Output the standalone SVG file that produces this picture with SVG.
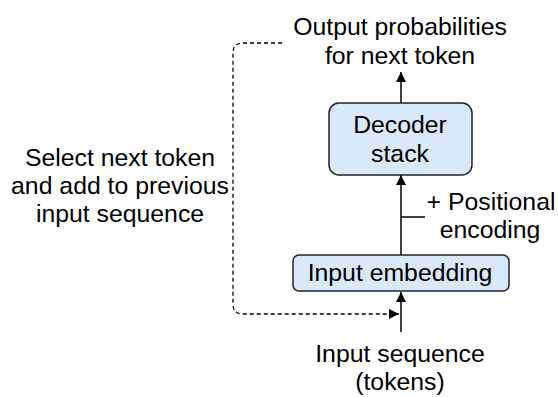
<svg xmlns="http://www.w3.org/2000/svg" width="558" height="397" viewBox="0 0 558 397">
  <style>
    .t { font-family: "Liberation Sans", Arial, sans-serif; font-size: 24.8px; fill: #000; }
    .m { text-anchor: middle; }
    .box { fill: #dae8fc; stroke: #222; stroke-width: 1.5; }
    .ln { fill: none; stroke: #000; stroke-width: 1.5; }
    .dash { fill: none; stroke: #000; stroke-width: 1.3; stroke-dasharray: 4 3; }
  </style>
  <defs>
    <marker id="ah" viewBox="0 0 10 10" refX="10" refY="5" markerWidth="10" markerHeight="10" markerUnits="userSpaceOnUse" orient="auto">
      <path d="M0,0 L10,5 L0,10 Z" fill="#000"/>
    </marker>
  </defs>
  <rect width="558" height="397" fill="#fff"/>

  <g id="connectors">
    <line class="ln" x1="401" y1="103" x2="401" y2="72" marker-end="url(#ah)"/>
    <line class="ln" x1="401" y1="255" x2="401" y2="175" marker-end="url(#ah)"/>
    <line class="ln" x1="401" y1="217" x2="425" y2="217"/>
    <line class="ln" x1="401" y1="332" x2="401" y2="292" marker-end="url(#ah)"/>
    <path class="dash" d="M282,43 H243 Q233,43 233,53 V304 Q233,314 243,314 H399" marker-end="url(#ah)"/>
  </g>

  <g id="output">
    <text class="t m" x="400" y="35">Output probabilities</text>
    <text class="t m" x="400" y="64">for next token</text>
  </g>

  <g id="decoder">
    <rect class="box" x="329" y="103" width="143" height="72" rx="10"/>
    <text class="t m" x="400" y="133">Decoder</text>
    <text class="t m" x="400" y="161.5">stack</text>
  </g>

  <g id="positional">
    <text class="t m" x="491" y="210">+ Positional</text>
    <text class="t m" x="490" y="238">encoding</text>
  </g>

  <g id="embedding">
    <rect class="box" x="293" y="255" width="216" height="36" rx="6"/>
    <text class="t m" x="400" y="281">Input embedding</text>
  </g>

  <g id="input">
    <text class="t m" x="400" y="362">Input sequence</text>
    <text class="t m" x="400" y="390">(tokens)</text>
  </g>

  <g id="select">
    <text class="t m" x="120" y="166">Select next token</text>
    <text class="t m" x="120" y="194">and add to previous</text>
    <text class="t m" x="120" y="222">input sequence</text>
  </g>
</svg>
